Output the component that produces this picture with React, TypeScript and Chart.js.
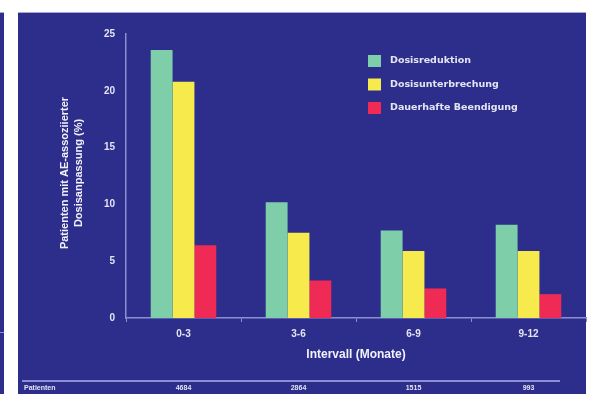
import React, { useEffect, useRef } from "react";
import { Chart, registerables } from "chart.js";

Chart.register(...registerables);

const categories = ["0-3", "3-6", "6-9", "9-12"];
const dosisreduktion = [23.6, 10.2, 7.7, 8.2];
const dosisunterbrechung = [20.8, 7.5, 5.9, 5.9];
const dauerhafteBeendigung = [6.4, 3.3, 2.6, 2.1];
const patienten = ["4684", "2864", "1515", "993"];
const seriesNames = ["Dosisreduktion", "Dosisunterbrechung", "Dauerhafte Beendigung"];
const seriesColors = ["#7ecfa9", "#f6ea4c", "#ee2a55"];
const yTitle = ["Patienten mit AE-assoziierter", "Dosisanpassung (%)"];
const xTitle = "Intervall (Monate)";

const BG = "#2d2e8c";
const TXT = "#e4e4f2";
const LINE = "#8c8ed0";

const bgPlugin = {
  id: "bgPlugin",
  beforeDraw(chart: any) {
    const ctx = chart.ctx;
    ctx.save();
    ctx.fillStyle = "#ffffff";
    ctx.fillRect(0, 0, chart.width, chart.height);
    ctx.fillStyle = BG;
    ctx.fillRect(0, 13, 4, chart.height - 13);
    ctx.fillRect(18, 12, 568, chart.height - 12);
    ctx.fillStyle = "#a6a8d8";
    ctx.fillRect(18, 12, 568, 1);
    ctx.fillRect(0, 12, 4, 1);
    ctx.fillStyle = "#8c8ed0";
    ctx.fillRect(0, 332, 4, 1);
    ctx.restore();
  },
};

const extraPlugin = {
  id: "extraPlugin",
  afterDraw(chart: any) {
    const ctx = chart.ctx;
    const xs = chart.scales.x;
    ctx.save();
    // y title
    ctx.fillStyle = "#f2f2fa";
    ctx.font = "bold 11px 'Liberation Sans', Arial, sans-serif";
    ctx.textAlign = "center";
    ctx.textBaseline = "middle";
    ctx.translate(65, 173);
    ctx.rotate(-Math.PI / 2);
    ctx.fillText(yTitle[0], 0, 0);
    ctx.fillText(yTitle[1], 0, 14);
    ctx.restore();

    ctx.save();
    ctx.fillStyle = "#f2f2fa";
    ctx.font = "bold 12px 'Liberation Sans', Arial, sans-serif";
    ctx.textAlign = "center";
    ctx.textBaseline = "middle";
    ctx.fillText(xTitle, 356, 355);

    // legend
    ctx.font = "bold 9.5px 'DejaVu Sans', Verdana, sans-serif";
    ctx.textAlign = "left";
    seriesNames.forEach((n, i) => {
      const y = 61 + i * 23.5;
      ctx.fillStyle = seriesColors[i];
      ctx.fillRect(368, y - 6, 13, 12);
      ctx.fillStyle = TXT;
      ctx.fillText(n, 390, y);
    });

    // patient row
    ctx.fillStyle = LINE;
    ctx.fillRect(22, 380, 538, 2);
    ctx.fillStyle = TXT;
    ctx.font = "bold 7px 'Liberation Sans', Arial, sans-serif";
    ctx.textAlign = "left";
    ctx.fillText("Patienten", 24, 388);
    ctx.textAlign = "center";
    patienten.forEach((p, i) => {
      ctx.fillText(p, xs.getPixelForValue(i), 388);
    });
    ctx.restore();
  },
};

export default function App() {
  const ref = useRef<HTMLCanvasElement | null>(null);
  useEffect(() => {
    if (!ref.current) return;
    const chart = new Chart(ref.current, {
      type: "bar",
      data: {
        labels: categories,
        datasets: [
          { label: seriesNames[0], data: dosisreduktion, backgroundColor: seriesColors[0] },
          { label: seriesNames[1], data: dosisunterbrechung, backgroundColor: seriesColors[1] },
          { label: seriesNames[2], data: dauerhafteBeendigung, backgroundColor: seriesColors[2] },
        ],
      },
      options: {
        animation: false,
        responsive: false,
        maintainAspectRatio: false,
        layout: { padding: { left: 0, right: 10, top: 34, bottom: 0 } },
        datasets: { bar: { categoryPercentage: 0.57, barPercentage: 1 } },
        plugins: { legend: { display: false }, tooltip: { enabled: false } },
        scales: {
          x: {
            afterFit: (s: any) => {
              s.height = 76;
            },
            grid: {
              display: true,
              drawOnChartArea: false,
              drawTicks: true,
              tickLength: 4,
              color: LINE,
            },
            border: { display: true, color: LINE, width: 1.5 },
            ticks: {
              color: TXT,
              padding: 6,
              font: { family: "'Liberation Sans', Arial, sans-serif", size: 10, weight: "bold" },
            },
          },
          y: {
            min: 0,
            max: 25,
            afterFit: (s: any) => {
              s.width = 126;
            },
            grid: { display: false, drawTicks: false },
            border: { display: true, color: LINE, width: 1.5 },
            ticks: {
              stepSize: 5,
              color: TXT,
              padding: 11,
              font: { family: "'Liberation Sans', Arial, sans-serif", size: 10, weight: "bold" },
            },
          },
        },
      },
      plugins: [bgPlugin, extraPlugin],
    });
    return () => chart.destroy();
  }, []);
  return (
    <div style={{ position: "fixed", left: 0, top: 0, width: 596, height: 394 }}>
      <canvas ref={ref} width={596} height={394} style={{ display: "block" }} />
    </div>
  );
}
